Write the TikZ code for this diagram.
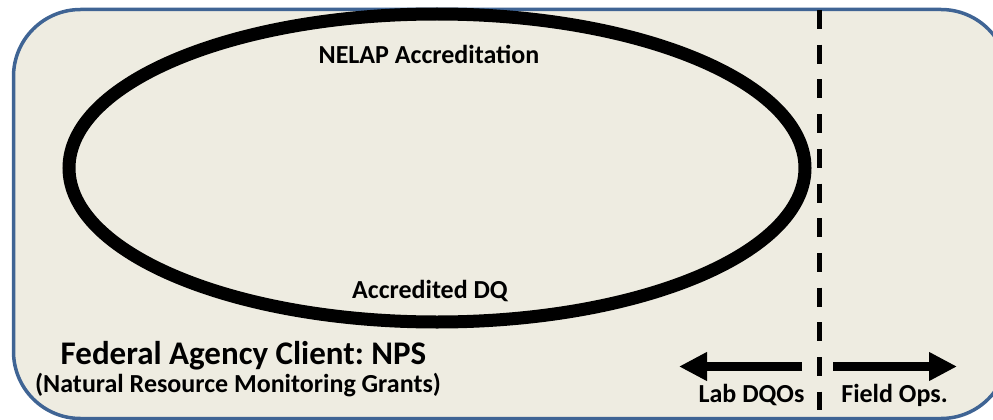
\documentclass[tikz,border=0pt]{standalone}
\usepackage{fontspec}
\setmainfont{Carlito}
\usetikzlibrary{arrows.meta}
\definecolor{panelfill}{HTML}{EEECE1}
\definecolor{panelline}{HTML}{3F6494}
\frenchspacing

\begin{document}
\begin{tikzpicture}[x=1pt,y=-1pt,
    lbl/.style={font=\bfseries\fontsize{26}{30}\selectfont, inner sep=0pt},
    biglbl/.style={font=\bfseries\fontsize{33}{38}\selectfont, inner sep=0pt},
    bigarrow/.style={line width=9pt, -{Triangle[length=28pt,width=27pt]}}]
    \useasboundingbox (0,0) rectangle (993,420);
    \clip (0,0) rectangle (993,420);
    % panel
    \draw[panelline, fill=panelfill, line width=3.5pt, rounded corners=67pt] (13.5,9.5) rectangle (1008,418.5);
    % accreditation ring
    \draw[line width=13pt] (437,168) ellipse [x radius=368, y radius=154];
    \node[lbl] (nelap) at (429,54) {NELAP Accreditation};
    \node[lbl] (accdq) at (430,291) {Accredited DQ};

    % client
    \node[biglbl] (client) at (243.5,356) {Federal Agency Client: NPS};
    \node[lbl] (grants) at (238,385) {(Natural Resource Monitoring Grants)};

    % lab / field split
    \coordinate (divtop) at (819,10);
    \coordinate (divbot) at (819,410);
    \draw[line width=5pt, dash pattern=on 19pt off 15.7pt] (divtop) -- (divbot);
    \coordinate (labstart) at (802,366.5);
    \coordinate (labend) at (679,366.5);
    \coordinate (fieldstart) at (833,366.5);
    \coordinate (fieldend) at (957,366.5);
    \draw[bigarrow] (labstart) -- (labend);
    \draw[bigarrow] (fieldstart) -- (fieldend);
    \node[lbl] (labdqo) at (751.5,395) {Lab DQOs};
    \node[lbl] (fieldops) at (894.5,395) {Field Ops.};
\end{tikzpicture}
\end{document}
